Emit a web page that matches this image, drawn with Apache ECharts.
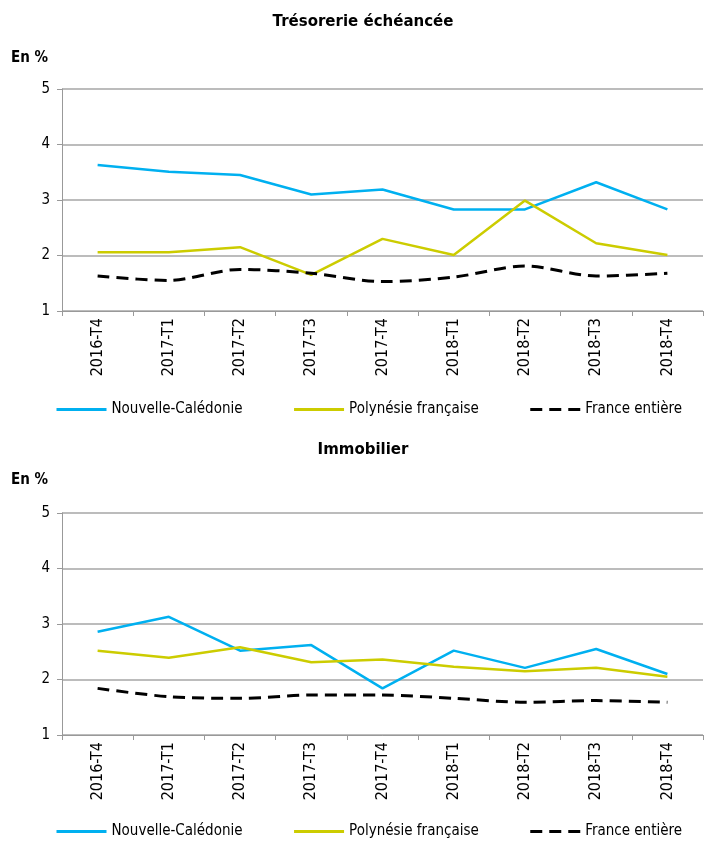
<!DOCTYPE html>
<html><head><meta charset="utf-8">
<script src="https://cdn.jsdelivr.net/npm/echarts@6/dist/echarts.min.js"></script>
<style>html,body{margin:0;padding:0;background:#fff}#c1,#c2{position:absolute;left:0;width:712px;height:422px}#c1{top:0}#c2{top:422px}</style>
</head><body><div id="c1"></div><div id="c2"></div>
<script>
var categories = ['2016-T4','2017-T1','2017-T2','2017-T3','2017-T4','2018-T1','2018-T2','2018-T3','2018-T4'];
var seriesNames = ['Nouvelle-Calédonie','Polynésie française','France entière'];
var yTicks = [1,2,3,4,5];
var tresoNC = [3.63,3.51,3.45,3.10,3.19,2.83,2.83,3.32,2.83];
var tresoPF = [2.06,2.06,2.15,1.65,2.30,2.01,2.99,2.22,2.01];
var tresoFR = [1.63,1.55,1.75,1.68,1.53,1.61,1.81,1.63,1.68];
var immoNC = [2.86,3.13,2.52,2.62,1.84,2.52,2.21,2.55,2.10];
var immoPF = [2.52,2.39,2.58,2.31,2.36,2.23,2.15,2.21,2.05];
var immoFR = [1.84,1.69,1.66,1.72,1.72,1.66,1.59,1.62,1.59];

var FONT = 'DejaVu Sans Condensed';
function build(el, title, titleY, gridTop, data, smoothFr) {
  var ch = echarts.init(document.getElementById(el), null, {renderer:'canvas'});
  var colors = ['#00B0F0','#CCCC00','#000000'];
  ch.setOption({
    animation:false,
    textStyle:{fontFamily:FONT},
    graphic:[
      {type:'text', x:363, y:titleY, style:{text:title, fill:'#000', font:'bold 15px "DejaVu Sans"', textAlign:'center', textVerticalAlign:'middle'}},
      {type:'text', x:11, y:58, style:{text:'En %', fill:'#000', font:'bold 15px "DejaVu Sans Condensed"', textAlign:'left', textVerticalAlign:'middle'}}
    ],
    legend:{
      left:55, top:402, padding:0, itemWidth:50, itemHeight:8, itemGap:50,
      itemStyle:{opacity:0},
      lineStyle:{width:3},
      textStyle:{fontFamily:FONT,fontSize:15,color:'#000'},
      data:seriesNames
    },
    grid:{left:62, right:9, top:gridTop, height:222, containLabel:false},
    xAxis:{type:'category', data:categories, boundaryGap:true,
      axisLine:{lineStyle:{color:'#999',width:1}},
      axisTick:{show:true,length:5,lineStyle:{color:'#999'}},
      axisLabel:{rotate:90, fontFamily:FONT, fontSize:16, color:'#000', margin:7}},
    yAxis:{type:'value', min:yTicks[0], max:yTicks[yTicks.length-1], interval:1,
      axisLine:{show:true,lineStyle:{color:'#999',width:1}},
      axisTick:{show:true,length:5,lineStyle:{color:'#999'}},
      splitLine:{lineStyle:{color:'#A6A6A6',width:1.5}},
      axisLabel:{fontFamily:FONT,fontSize:15,color:'#000',margin:12}},
    series:[
      {name:seriesNames[0], type:'line', data:data[0], symbol:'none', color:colors[0], lineStyle:{width:2.5,color:colors[0]}},
      {name:seriesNames[1], type:'line', data:data[1], symbol:'none', color:colors[1], lineStyle:{width:2.5,color:colors[1]}},
      {name:seriesNames[2], type:'line', data:data[2], symbol:'none', smooth:smoothFr, color:colors[2], lineStyle:{width:3,color:colors[2],type:[12,7]}}
    ]
  });
}
build('c1','Trésorerie échéancée',22,89,[tresoNC,tresoPF,tresoFR],0.3);
build('c2','Immobilier',28,91,[immoNC,immoPF,immoFR],0.3);
</script></body></html>
